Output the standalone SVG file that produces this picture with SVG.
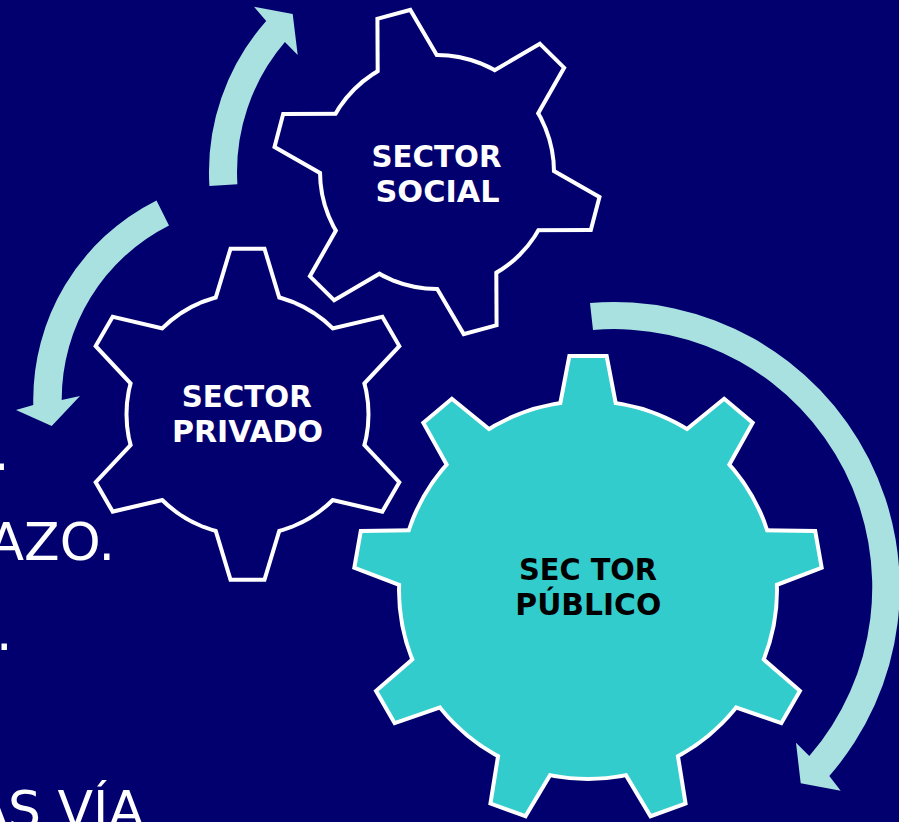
<svg xmlns="http://www.w3.org/2000/svg" width="899" height="822" viewBox="0 0 899 822">
<style>
.bg{fill:#02006F}
.under{fill:#fff;stroke:#fff;stroke-width:8;stroke-linejoin:miter}
.navy{fill:#02006F}
.teal{fill:#33CCCC}
.arrow{fill:#A9E1E1}
.lbl{font-family:"DejaVu Sans","Liberation Sans",sans-serif;font-weight:bold;font-size:30px;text-anchor:middle}
.w{fill:#fff}
.k{fill:#000}
.slide{font-family:"DejaVu Sans","Liberation Sans",sans-serif;font-size:52px;fill:#fff}
</style>
<defs>
<polygon id="tP" points="-17,-232 17,-232 28.9,-170 -28.9,-170"/>
<polygon id="tS" points="-15.5,-161.5 15.5,-161.5 32,-100 -32,-100"/>
<polygon id="tV" points="-15.5,-163.5 15.5,-163.5 34.7,-100 -34.7,-100"/>
</defs>
<rect class="bg" x="0" y="0" width="899" height="822"/>
<g id="slide-text">
<text class="slide" x="-7" y="470">.</text>
<text class="slide" x="115" y="560" text-anchor="end">AZO.</text>
<text class="slide" x="-4" y="650">.</text>
<text class="slide" x="144" y="828" text-anchor="end">AS VÍA</text>
</g>
<g id="connectors">
<path class="arrow" d="M209.4,185.9 A228,228 0 0 1 266.2,20.9 L254,6.7 L292.7,14 L297.7,55 L284.9,42.1 A200,200 0 0 0 237.4,184.2 Z"/>
<path class="arrow" d="M156.5,200.4 A223,223 0 0 0 33.3,405 L16,410 L51.7,426 L80,396 L61.7,400 A195,195 0 0 1 169,225.5 Z"/>
<path class="arrow" d="M590,303 A286,286 0 0 1 829.3,776 L840.7,790.7 L800.7,783.3 L796,742.7 L809.3,756 A258,258 0 0 0 593,330 Z"/>
</g>
<g id="sector-social" transform="translate(437,172)">
<g class="under">
<circle r="115"/>
<use href="#tS" transform="rotate(-15.3)"/>
<use href="#tS" transform="rotate(44.7)"/>
<use href="#tS" transform="rotate(104.7)"/>
<use href="#tS" transform="rotate(164.7)"/>
<use href="#tS" transform="rotate(224.7)"/>
<use href="#tS" transform="rotate(284.7)"/>
</g>
<g class="navy">
<circle r="115"/>
<use href="#tS" transform="rotate(-15.3)"/>
<use href="#tS" transform="rotate(44.7)"/>
<use href="#tS" transform="rotate(104.7)"/>
<use href="#tS" transform="rotate(164.7)"/>
<use href="#tS" transform="rotate(224.7)"/>
<use href="#tS" transform="rotate(284.7)"/>
</g>
<text class="lbl w" x="-0.5" y="-5" textLength="130" lengthAdjust="spacingAndGlyphs">SECTOR</text>
<text class="lbl w" x="0.5" y="30" textLength="124" lengthAdjust="spacingAndGlyphs">SOCIAL</text>
</g>
<g id="sector-privado" transform="translate(247.5,414.2)">
<g class="under">
<circle r="119"/>
<use href="#tV"/>
<use href="#tV" transform="rotate(60)"/>
<use href="#tV" transform="rotate(120)"/>
<use href="#tV" transform="rotate(180)"/>
<use href="#tV" transform="rotate(240)"/>
<use href="#tV" transform="rotate(300)"/>
</g>
<g class="navy">
<circle r="119"/>
<use href="#tV"/>
<use href="#tV" transform="rotate(60)"/>
<use href="#tV" transform="rotate(120)"/>
<use href="#tV" transform="rotate(180)"/>
<use href="#tV" transform="rotate(240)"/>
<use href="#tV" transform="rotate(300)"/>
</g>
<text class="lbl w" x="-0.8" y="-7.7" textLength="130" lengthAdjust="spacingAndGlyphs">SECTOR</text>
<text class="lbl w" x="0" y="28.3" textLength="151" lengthAdjust="spacingAndGlyphs">PRIVADO</text>
</g>
<g id="sector-publico" transform="translate(588,590)">
<g class="under">
<circle r="187"/>
<use href="#tP"/>
<use href="#tP" transform="rotate(40)"/>
<use href="#tP" transform="rotate(80)"/>
<use href="#tP" transform="rotate(120)"/>
<use href="#tP" transform="rotate(160)"/>
<use href="#tP" transform="rotate(200)"/>
<use href="#tP" transform="rotate(240)"/>
<use href="#tP" transform="rotate(280)"/>
<use href="#tP" transform="rotate(320)"/>
</g>
<g class="teal">
<circle r="187"/>
<use href="#tP"/>
<use href="#tP" transform="rotate(40)"/>
<use href="#tP" transform="rotate(80)"/>
<use href="#tP" transform="rotate(120)"/>
<use href="#tP" transform="rotate(160)"/>
<use href="#tP" transform="rotate(200)"/>
<use href="#tP" transform="rotate(240)"/>
<use href="#tP" transform="rotate(280)"/>
<use href="#tP" transform="rotate(320)"/>
</g>
<text class="lbl k" x="0" y="-10" textLength="138" lengthAdjust="spacingAndGlyphs">SEC TOR</text>
<text class="lbl k" x="0.3" y="25" textLength="146" lengthAdjust="spacingAndGlyphs">PÚBLICO</text>
</g>
</svg>
